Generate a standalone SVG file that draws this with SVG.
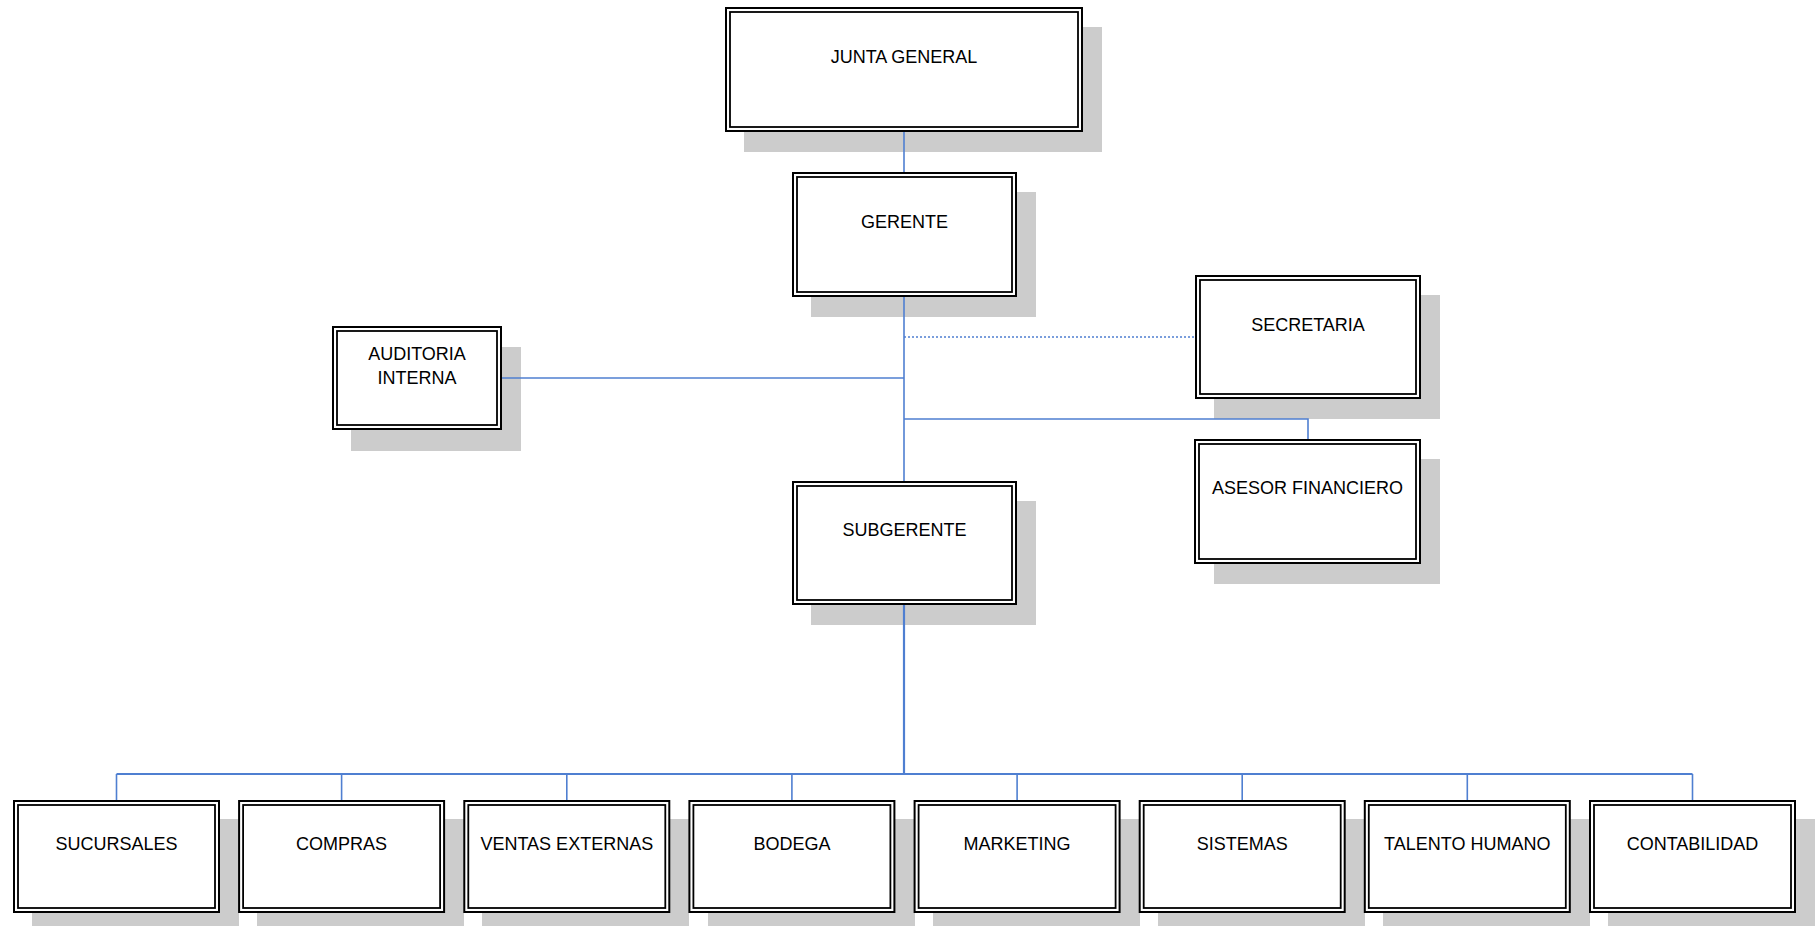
<svg xmlns="http://www.w3.org/2000/svg" width="1816" height="926" viewBox="0 0 1816 926">
<style>
.sh{fill:#cccccc;stroke:none}
.o{fill:#ffffff;stroke:#000000;stroke-width:2}
.i{fill:none;stroke:#000000;stroke-width:1.8}
.t{font-family:"Liberation Sans",Arial,sans-serif;font-size:18px;fill:#000000;text-anchor:middle}
.c{fill:none;stroke:#4f7fd1;stroke-width:1.6}
.cb{fill:none;stroke:#4f7fd1;stroke-width:2.2}
.cd{fill:none;stroke:#4f7fd1;stroke-width:1.6;stroke-dasharray:2 2}
</style>
<rect width="1816" height="926" fill="#ffffff"/>
<g id="shadows">
<rect class="sh" x="744" y="27" width="358" height="125"/>
<rect class="sh" x="811" y="192" width="225" height="125"/>
<rect class="sh" x="351" y="347" width="170" height="104"/>
<rect class="sh" x="1214" y="295" width="226" height="124"/>
<rect class="sh" x="1214" y="459" width="226" height="125"/>
<rect class="sh" x="811" y="501" width="225" height="124"/>
<rect class="sh" x="32" y="819" width="207" height="113"/>
<rect class="sh" x="257" y="819" width="207" height="113"/>
<rect class="sh" x="482" y="819" width="207" height="113"/>
<rect class="sh" x="708" y="819" width="207" height="113"/>
<rect class="sh" x="933" y="819" width="207" height="113"/>
<rect class="sh" x="1158" y="819" width="207" height="113"/>
<rect class="sh" x="1383" y="819" width="207" height="113"/>
<rect class="sh" x="1608" y="819" width="207" height="113"/>
</g>
<g id="connectors">
<line class="c" x1="904" y1="132" x2="904" y2="172"/>
<line class="c" x1="904" y1="297" x2="904" y2="481"/>
<line class="cb" x1="904" y1="605" x2="904" y2="774"/>
<line class="cd" x1="904" y1="337" x2="1195" y2="337"/>
<line class="c" x1="502" y1="378" x2="904" y2="378"/>
<polyline class="c" points="904,419 1308,419 1308,439"/>
<line class="cb" x1="116.5" y1="774" x2="1692.5" y2="774"/>
<line class="c" x1="116.5" y1="774" x2="116.5" y2="800"/>
<line class="c" x1="341.6" y1="774" x2="341.6" y2="800"/>
<line class="c" x1="566.8" y1="774" x2="566.8" y2="800"/>
<line class="c" x1="791.9" y1="774" x2="791.9" y2="800"/>
<line class="c" x1="1017.1" y1="774" x2="1017.1" y2="800"/>
<line class="c" x1="1242.2" y1="774" x2="1242.2" y2="800"/>
<line class="c" x1="1467.3" y1="774" x2="1467.3" y2="800"/>
<line class="c" x1="1692.5" y1="774" x2="1692.5" y2="800"/>
</g>
<g id="junta">
<rect class="o" x="726" y="8" width="356" height="123"/>
<rect class="i" x="730" y="12" width="348" height="115"/>
<text class="t" x="904" y="63">JUNTA GENERAL</text>
</g>
<g id="gerente">
<rect class="o" x="793" y="173" width="223" height="123"/>
<rect class="i" x="797" y="177" width="215" height="115"/>
<text class="t" x="904.5" y="228">GERENTE</text>
</g>
<g id="auditoria">
<rect class="o" x="333" y="327" width="168" height="102"/>
<rect class="i" x="337" y="331" width="160" height="94"/>
<text class="t" x="417" y="360">AUDITORIA</text>
<text class="t" x="417" y="384">INTERNA</text>
</g>
<g id="secretaria">
<rect class="o" x="1196" y="276" width="224" height="122"/>
<rect class="i" x="1200" y="280" width="216" height="114"/>
<text class="t" x="1308" y="331">SECRETARIA</text>
</g>
<g id="asesor">
<rect class="o" x="1195" y="440" width="225" height="123"/>
<rect class="i" x="1199" y="444" width="217" height="115"/>
<text class="t" x="1307.5" y="494">ASESOR FINANCIERO</text>
</g>
<g id="subgerente">
<rect class="o" x="793" y="482" width="223" height="122"/>
<rect class="i" x="797" y="486" width="215" height="114"/>
<text class="t" x="904.5" y="536">SUBGERENTE</text>
</g>
<g id="sucursales">
<rect class="o" x="14" y="801" width="205" height="111"/>
<rect class="i" x="18" y="805" width="197" height="103"/>
<text class="t" x="116.5" y="850">SUCURSALES</text>
</g>
<g id="compras">
<rect class="o" x="239.1" y="801" width="205" height="111"/>
<rect class="i" x="243.1" y="805" width="197" height="103"/>
<text class="t" x="341.6" y="850">COMPRAS</text>
</g>
<g id="ventas">
<rect class="o" x="464.3" y="801" width="205" height="111"/>
<rect class="i" x="468.3" y="805" width="197" height="103"/>
<text class="t" x="566.8" y="850">VENTAS EXTERNAS</text>
</g>
<g id="bodega">
<rect class="o" x="689.4" y="801" width="205" height="111"/>
<rect class="i" x="693.4" y="805" width="197" height="103"/>
<text class="t" x="791.9" y="850">BODEGA</text>
</g>
<g id="marketing">
<rect class="o" x="914.6" y="801" width="205" height="111"/>
<rect class="i" x="918.6" y="805" width="197" height="103"/>
<text class="t" x="1017.1" y="850">MARKETING</text>
</g>
<g id="sistemas">
<rect class="o" x="1139.7" y="801" width="205" height="111"/>
<rect class="i" x="1143.7" y="805" width="197" height="103"/>
<text class="t" x="1242.2" y="850">SISTEMAS</text>
</g>
<g id="talento">
<rect class="o" x="1364.8" y="801" width="205" height="111"/>
<rect class="i" x="1368.8" y="805" width="197" height="103"/>
<text class="t" x="1467.3" y="850">TALENTO HUMANO</text>
</g>
<g id="contabilidad">
<rect class="o" x="1590" y="801" width="205" height="111"/>
<rect class="i" x="1594" y="805" width="197" height="103"/>
<text class="t" x="1692.5" y="850">CONTABILIDAD</text>
</g>
</svg>
